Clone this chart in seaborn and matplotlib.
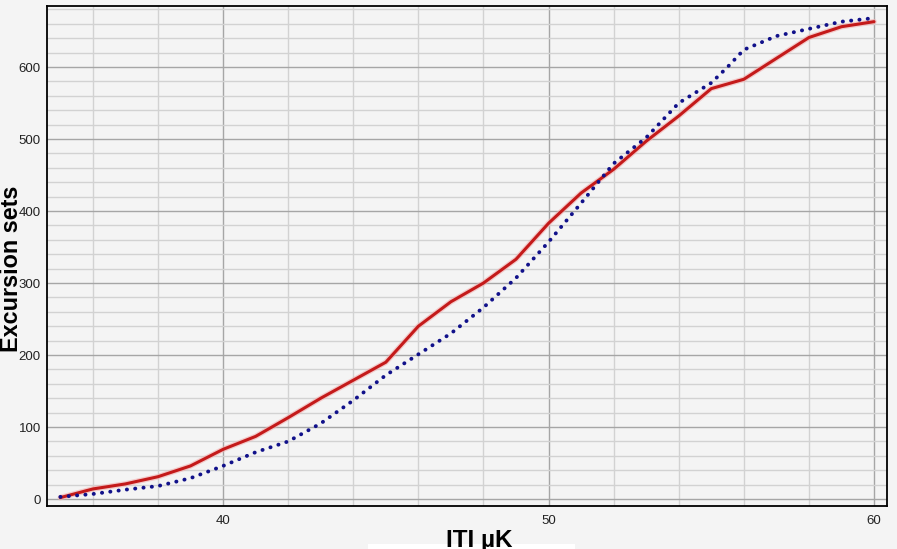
"""
Excursion sets vs ITI threshold (µK) -- recreation of the reference chart.
"""

import matplotlib
matplotlib.use("Agg")
import matplotlib.pyplot as plt
import matplotlib.patheffects as pe
from matplotlib.patches import Rectangle
from matplotlib.ticker import MultipleLocator
import seaborn as sns

# ---- data ----
iti_red = [35, 36, 37, 38, 39, 40, 41, 42, 43, 44, 45, 46, 47,
           48, 49, 50, 51, 52, 53, 54, 55, 56, 57, 58, 59, 60]
sets_red = [2, 14, 21, 31, 46, 69, 87, 113, 140, 165, 190, 240, 274,
            300, 333, 383, 425, 458, 497, 532, 570, 583, 612, 641, 656, 663]

iti_blue = [35, 36, 37, 38, 39, 40, 41, 42, 43, 44, 45, 46, 47,
            48, 49, 50, 51, 52, 53, 54, 55, 55.5, 56, 57, 58, 59, 60]
sets_blue = [3, 7, 13, 18, 29, 46, 65, 80, 105, 137, 172, 201, 230,
             266, 307, 357, 411, 466, 502, 550, 578, 600, 624, 643, 653, 663, 668]

x_major = [40, 50, 60]
y_major = [0, 100, 200, 300, 400, 500, 600]

BG = "#f4f4f4"
RED = "#c41a1a"
BLUE = "#11118a"

sns.set_style("white")
plt.rcParams["font.family"] = ["Liberation Sans", "DejaVu Sans"]

fig = plt.figure(figsize=(8.97, 5.49), dpi=100, facecolor=BG)
ax = fig.add_axes([0.0524, 0.0783, 0.9365, 0.9107], facecolor=BG)

# 红线（实线），带一点淡粉色的光晕
sns.lineplot(x=iti_red, y=sets_red, ax=ax, color=RED, linewidth=2.2,
             zorder=4, estimator=None, sort=False)
ax.lines[-1].set_path_effects([
    pe.Stroke(linewidth=4.0, foreground="#f3b0b0", alpha=0.6), pe.Normal()])

# 蓝线（圆点线）
sns.lineplot(x=iti_blue, y=sets_blue, ax=ax, color=BLUE, linewidth=2.8,
             zorder=5, estimator=None, sort=False)
blue = ax.lines[-1]
blue.set_dashes((0.05, 2.1))
blue.set_dash_capstyle("round")

# ---- axes ----
ax.set_xlim(34.59, 60.4)
ax.set_ylim(-9.7, 684.7)
ax.set_xticks(x_major)
ax.set_yticks(y_major)
ax.xaxis.set_minor_locator(MultipleLocator(2))
ax.yaxis.set_minor_locator(MultipleLocator(20))

ax.grid(True, which="major", color="#a6a6a6", linewidth=1.0)
ax.grid(True, which="minor", color="#d2d2d2", linewidth=1.0)
ax.set_axisbelow(True)

ax.tick_params(which="both", direction="out", length=3.5, width=1,
               color="#707070", labelsize=9.5, labelcolor="#222222", pad=1)
ax.tick_params(axis="x", which="major", pad=3)

for side in ["left", "bottom", "right", "top"]:
    ax.spines[side].set_visible(True)
    ax.spines[side].set_color("black")
    ax.spines[side].set_linewidth(1.3)

ax.set_xlabel("ITI µK", fontsize=17.5, fontweight="bold", color="black")
ax.set_ylabel("Excursion sets", fontsize=16.8, fontweight="bold", color="black")
ax.xaxis.set_label_coords(0.515, -0.045)
ax.yaxis.set_label_coords(-0.0285, 0.474)

# 底部的白色条（参考图中的残留）
fig.add_artist(Rectangle((368 / 897, 0), (575 - 368) / 897, 5 / 549,
                         transform=fig.transFigure, facecolor="white",
                         edgecolor="none", zorder=-1))

plt.savefig("out.png", dpi=100, facecolor=BG)
plt.close()
